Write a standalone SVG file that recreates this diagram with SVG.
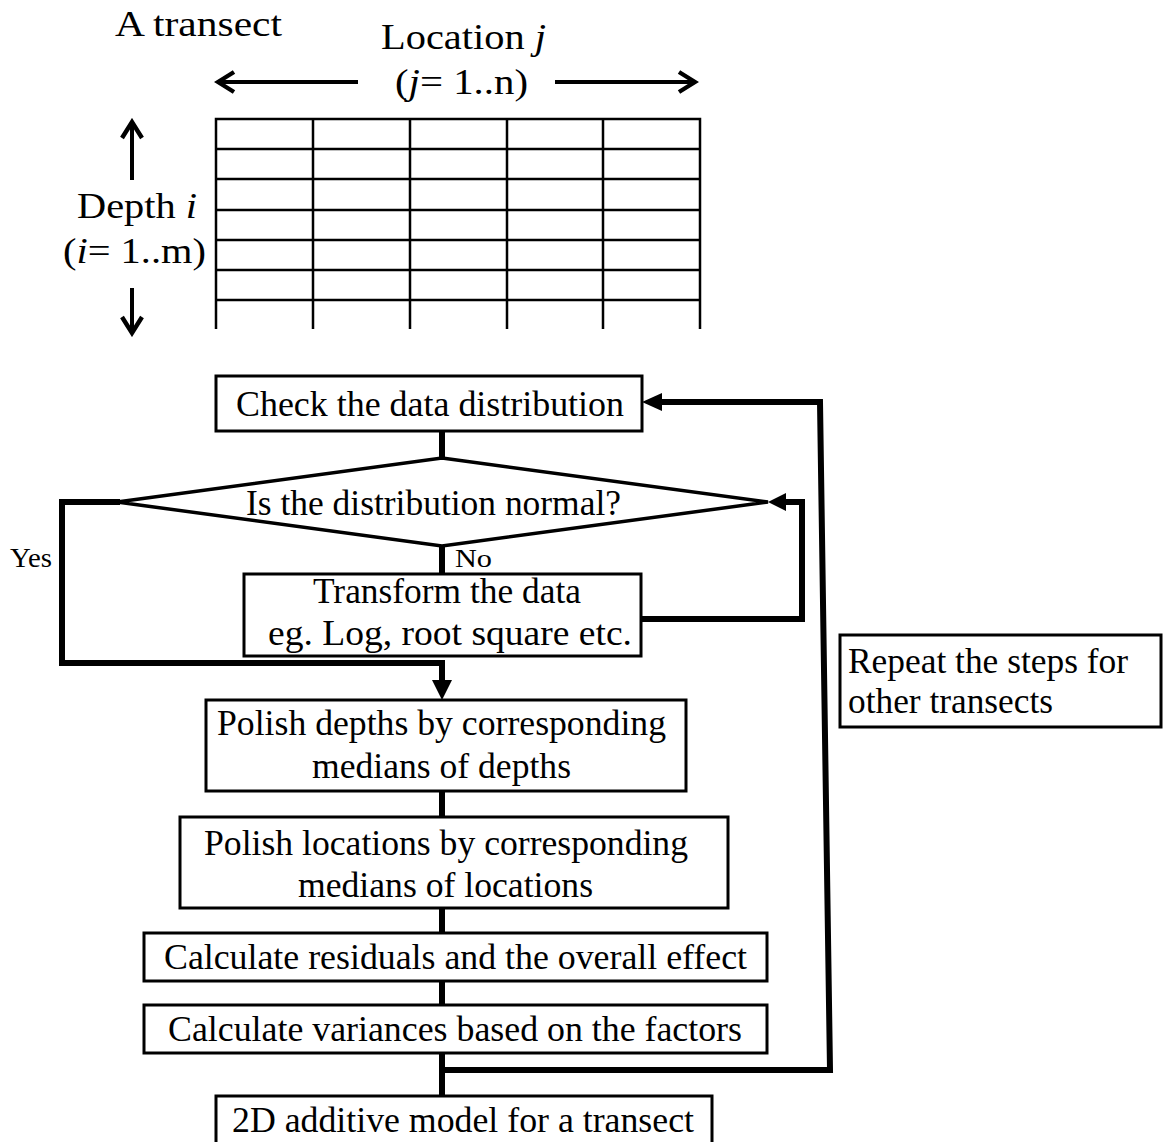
<svg xmlns="http://www.w3.org/2000/svg" width="1163" height="1142" viewBox="0 0 1163 1142">
<style>
text{font-family:"Liberation Serif","Times New Roman",serif;fill:#000}
.t{font-size:35px}
.s{font-size:28px}
.box{fill:#fff;stroke:#000;stroke-width:3}
.grid{stroke:#000;stroke-width:2.5;fill:none}
.thin{stroke:#000;stroke-width:4;fill:none}
.con{stroke:#000;stroke-width:6;fill:none;stroke-linecap:square}
.ah{fill:#000}
</style>
<defs>
<marker id="chev" viewBox="0 0 12 12" refX="10" refY="6" markerWidth="6" markerHeight="6" orient="auto" markerUnits="strokeWidth">
<path d="M2,1 L10,6 L2,11" fill="none" stroke="#000" stroke-width="2.2"/>
</marker>
</defs>

<g id="transect-panel">
<text class="t" x="115" y="36" textLength="167" lengthAdjust="spacingAndGlyphs">A transect</text>
<text class="t" x="381" y="49" textLength="165" lengthAdjust="spacingAndGlyphs">Location <tspan font-style="italic">j</tspan></text>
<text class="t" x="395" y="94" textLength="133" lengthAdjust="spacingAndGlyphs">(<tspan font-style="italic">j</tspan>= 1..n)</text>
<text class="t" x="77" y="218" textLength="120" lengthAdjust="spacingAndGlyphs">Depth <tspan font-style="italic">i</tspan></text>
<text class="t" x="63" y="263" textLength="143" lengthAdjust="spacingAndGlyphs">(<tspan font-style="italic">i</tspan>= 1..m)</text>
<line class="thin" x1="358" y1="82" x2="218" y2="82" marker-end="url(#chev)"/>
<line class="thin" x1="555" y1="82" x2="695" y2="82" marker-end="url(#chev)"/>
<line class="thin" x1="132" y1="180" x2="132" y2="122" stroke-width="3.5" marker-end="url(#chev)"/>
<line class="thin" x1="132" y1="288" x2="132" y2="333" stroke-width="3.5" marker-end="url(#chev)"/>
<path class="grid" d="M216,329 V119 H700 V329 M313,119 V329 M410,119 V329 M507,119 V329 M603,119 V329 M216,149 H700 M216,179 H700 M216,210 H700 M216,240 H700 M216,270 H700 M216,300 H700"/>
</g>

<g id="connectors">
<path class="con" d="M442,432 V456"/>
<path class="con" d="M442,547 V573"/>
<path class="con" d="M117,502 H62 V663 H442 V684"/>
<polygon class="ah" points="432,680 452,680 442,700"/>
<path class="con" d="M643,619 H802 V502 H782"/>
<polygon class="ah" points="768,502 786,493 786,511"/>
<path class="con" d="M442,792 V816"/>
<path class="con" d="M442,909 V932"/>
<path class="con" d="M442,982 V1004"/>
<path class="con" d="M442,1054 V1095"/>
<path class="con" d="M442,1070 H830 L820,402 H658"/>
<polygon class="ah" points="642,402 662,393 662,411"/>
</g>

<g id="check">
<rect class="box" x="216" y="376" width="426" height="55"/>
<text class="t" x="236" y="416" textLength="388" lengthAdjust="spacingAndGlyphs">Check the data distribution</text>
</g>

<g id="decision">
<polygon points="442,458 768,502 442,546 117,502" fill="#fff" stroke="#000" stroke-width="3.5"/>
<text class="t" x="246" y="515" textLength="375" lengthAdjust="spacingAndGlyphs">Is the distribution normal?</text>
<text class="s" x="10" y="567" textLength="42" lengthAdjust="spacingAndGlyphs">Yes</text>
<text x="455" y="567" font-size="26" textLength="37" lengthAdjust="spacingAndGlyphs">No</text>
</g>

<g id="transform">
<rect class="box" x="244" y="574" width="397" height="82"/>
<text class="t" x="313" y="603" textLength="268" lengthAdjust="spacingAndGlyphs">Transform the data</text>
<text class="t" x="268" y="645" textLength="364" lengthAdjust="spacingAndGlyphs">eg. Log, root square etc.</text>
</g>

<g id="polish-depths">
<rect class="box" x="206" y="700" width="480" height="91"/>
<text class="t" x="217" y="735" textLength="449" lengthAdjust="spacingAndGlyphs">Polish depths by corresponding</text>
<text class="t" x="312" y="778" textLength="259" lengthAdjust="spacingAndGlyphs">medians of depths</text>
</g>

<g id="polish-locations">
<rect class="box" x="180" y="817" width="548" height="91"/>
<text class="t" x="204" y="855" textLength="484" lengthAdjust="spacingAndGlyphs">Polish locations by corresponding</text>
<text class="t" x="298" y="897" textLength="295" lengthAdjust="spacingAndGlyphs">medians of locations</text>
</g>

<g id="residuals">
<rect class="box" x="144" y="933" width="623" height="48"/>
<text class="t" x="164" y="969" textLength="583" lengthAdjust="spacingAndGlyphs">Calculate residuals and the overall effect</text>
</g>

<g id="variances">
<rect class="box" x="144" y="1005" width="623" height="48"/>
<text class="t" x="168" y="1041" textLength="574" lengthAdjust="spacingAndGlyphs">Calculate variances based on the factors</text>
</g>

<g id="model">
<rect class="box" x="216" y="1096" width="496" height="60"/>
<text class="t" x="232" y="1132" textLength="462" lengthAdjust="spacingAndGlyphs">2D additive model for a transect</text>
</g>

<g id="repeat">
<rect class="box" x="840" y="635" width="321" height="92"/>
<text class="t" x="848" y="673" font-size="33" textLength="280" lengthAdjust="spacingAndGlyphs">Repeat the steps for</text>
<text class="t" x="848" y="713" font-size="33" textLength="205" lengthAdjust="spacingAndGlyphs">other transects</text>
</g>
</svg>
